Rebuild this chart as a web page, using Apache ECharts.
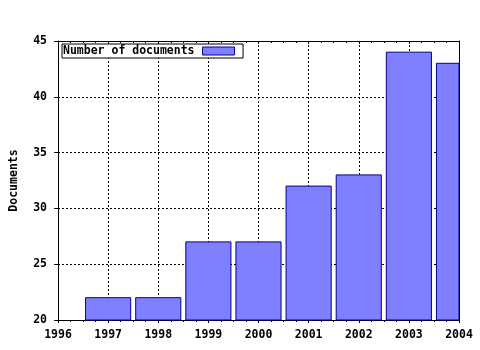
<!DOCTYPE html>
<html><head><meta charset="utf-8">
<script src="https://cdn.jsdelivr.net/npm/echarts@6/dist/echarts.min.js"></script>
<style>html,body{margin:0;padding:0;background:#fff}#c{width:480px;height:350px}</style>
</head><body><div id="c"></div>
<script>
const years = [1997, 1998, 1999, 2000, 2001, 2002, 2003, 2004];
const documents = [22, 22, 27, 27, 32, 33, 44, 43];
const seriesName = 'Number of documents';
const yTitle = 'Documents';

const FONT = '"DejaVu Sans Mono", monospace';
const BAR_FILL = '#8080ff', BAR_EDGE = '#000090';
const chart = echarts.init(document.getElementById('c'), null, {renderer: 'canvas'});
const dashed = {show: true, lineStyle: {color: '#000', type: [2, 2], width: 1}};

function renderBar(params, api) {
  const x = api.value(0), v = api.value(1);
  const top = api.coord([x, v]);
  const base = api.coord([x, 20]);
  const w = api.size([0.9, 0])[0];
  const cs = params.coordSys;
  const rect = echarts.graphic.clipRectByRect(
    {x: top[0] - w / 2, y: top[1], width: w, height: base[1] - top[1]},
    {x: cs.x, y: cs.y, width: cs.width, height: cs.height});
  if (!rect) return null;
  return {type: 'rect', shape: rect,
    style: {fill: BAR_FILL, stroke: BAR_EDGE, lineWidth: 1}};
}

chart.setOption({
  animation: false,
  backgroundColor: '#fff',
  grid: {left: 58, right: 21, top: 41, bottom: 30},
  legend: {
    show: true, left: 62, top: 44, orient: 'horizontal', align: 'right',
    itemWidth: 32, itemHeight: 8, itemGap: 0,
    padding: [1, 8, 1, 1], borderColor: '#000', borderWidth: 1, borderRadius: 0,
    backgroundColor: '#fff',
    textStyle: {fontFamily: FONT, fontWeight: 'bold', fontSize: 11.5, color: '#000', padding: [0, 3, 0, 0]},
    data: [{name: seriesName, icon: 'rect',
      itemStyle: {color: BAR_FILL, borderColor: BAR_EDGE, borderWidth: 1}}]
  },
  xAxis: [{
    type: 'value', min: 1996, max: 2004, interval: 1, position: 'bottom',
    axisLine: {show: true, onZero: false, lineStyle: {color: '#000', width: 1}},
    axisTick: {show: true, length: 3, inside: false, lineStyle: {color: '#000'}},
    minorTick: {show: true, splitNumber: 4, length: 2, lineStyle: {color: '#000'}},
    axisLabel: {margin: 9, color: '#000', fontFamily: FONT, fontWeight: 'bold', fontSize: 11.5,
      formatter: v => String(v)},
    splitLine: dashed
  }, {
    type: 'value', min: 1996, max: 2004, interval: 1, position: 'top',
    axisLine: {show: true, onZero: false, lineStyle: {color: '#000', width: 1}},
    axisTick: {show: true, length: 3, inside: true, lineStyle: {color: '#000'}},
    minorTick: {show: true, splitNumber: 4, length: 2, lineStyle: {color: '#000'}},
    axisLabel: {show: false}, splitLine: {show: false}
  }],
  yAxis: [{
    type: 'value', min: 20, max: 45, interval: 5, position: 'left',
    name: yTitle, nameLocation: 'middle', nameGap: 38, nameRotate: 90,
    nameTextStyle: {color: '#000', fontFamily: FONT, fontWeight: 'bold', fontSize: 11.5},
    axisLine: {show: true, onZero: false, lineStyle: {color: '#000', width: 1}},
    axisTick: {show: true, length: 4, inside: false, lineStyle: {color: '#000'}},
    axisLabel: {margin: 11, color: '#000', fontFamily: FONT, fontWeight: 'bold', fontSize: 11.5},
    splitLine: dashed
  }, {
    type: 'value', min: 20, max: 45, interval: 5, position: 'right',
    axisLine: {show: true, onZero: false, lineStyle: {color: '#000', width: 1}},
    axisTick: {show: false}, axisLabel: {show: false}, splitLine: {show: false}
  }],
  series: [{
    name: seriesName, type: 'custom', xAxisIndex: 0, yAxisIndex: 0,
    renderItem: renderBar,
    encode: {x: 0, y: 1},
    data: years.map((y, i) => [y, documents[i]]),
    itemStyle: {color: BAR_FILL, borderColor: BAR_EDGE, borderWidth: 1},
    emphasis: {disabled: true}, silent: true
  }]
});
</script></body></html>
